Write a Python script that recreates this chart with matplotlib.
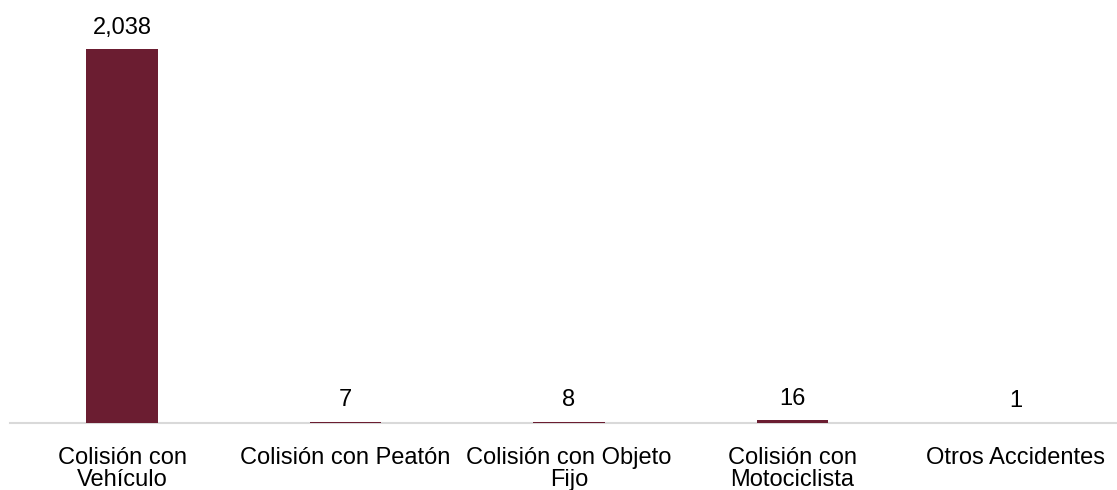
import matplotlib
matplotlib.use("Agg")
import matplotlib.pyplot as plt

# accident counts by type
categorias = ["Colisión con\nVehículo", "Colisión con Peatón", "Colisión con Objeto\nFijo",
              "Colisión con\nMotociclista", "Otros Accidentes"]
valores = [2038, 7, 8, 16, 1]
etiquetas = ["2,038", "7", "8", "16", "1"]

plt.rcParams["font.family"] = ["Liberation Sans", "DejaVu Sans"]

W, H = 1117, 490
fig = plt.figure(figsize=(W / 100, H / 100), dpi=100)
# axes spans past right edge a bit, like the original
left, right = 10.25, 1127.75
bottom, top = 490 - 423, 490 - 49
ax = fig.add_axes([left / W, bottom / H, (right - left) / W, (top - bottom) / H])

x = range(len(valores))
bars = ax.bar(x, valores, width=0.32, color="#6B1D31", zorder=3)
ax.set_xlim(-0.5, 4.5)
ax.set_ylim(0, 2038)

for b, lab in zip(bars, etiquetas):
    ax.annotate(lab, (b.get_x() + b.get_width() / 2, b.get_height()),
                xytext=(0, 7.5), textcoords="offset points",
                ha="center", va="bottom", fontsize=17, color="#000000",
                annotation_clip=False)

ax.set_xticks(list(x))
ax.set_xticklabels(categorias, fontsize=17, linespacing=1.05)
ax.tick_params(axis="x", length=0, pad=17)
ax.set_yticks([])
for s in ["top", "right", "left"]:
    ax.spines[s].set_visible(False)
ax.spines["bottom"].set_color("#D9D9D9")
ax.spines["bottom"].set_linewidth(1.5)

fig.savefig("out.png", dpi=100)
